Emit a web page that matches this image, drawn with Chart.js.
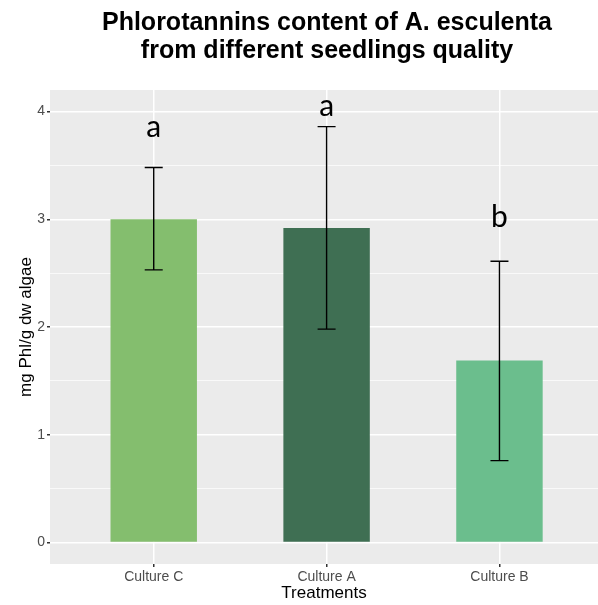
<!DOCTYPE html>
<html>
<head>
<meta charset="utf-8">
<script src="https://cdn.jsdelivr.net/npm/chart.js@4"></script>
<style>
  html, body { margin: 0; padding: 0; background: #fff; }
  #wrap { width: 598px; height: 605px; position: relative; }
</style>
</head>
<body>
<div id="wrap"><canvas id="chart"></canvas></div>
<script>
const categories = ["Culture C", "Culture A", "Culture B"];
const means = [3.0, 2.92, 1.69];
const errLow = [2.53, 1.98, 0.76];
const errHigh = [3.48, 3.86, 2.61];
const letters = ["a", "a", "b"];
const letterY = [3.85, 4.05, 3.02];
const barColors = ["#84be6e", "#3f6f53", "#6bbe8d"];
const yTicks = [0, 1, 2, 3, 4];

const TITLE = ["Phlorotannins content of A. esculenta", "from different seedlings quality"];

// grey panel behind the bars
const panelBg = {
  id: "panelBg",
  beforeDraw(chart) {
    const { ctx, chartArea: a } = chart;
    ctx.save();
    ctx.fillStyle = "#ebebeb";
    ctx.fillRect(a.left, a.top, a.right - a.left, a.bottom - a.top);
    ctx.restore();
  },
};

// error bars + significance letters + title
const extras = {
  id: "extras",
  afterDatasetsDraw(chart) {
    const { ctx, scales } = chart;
    const x = scales.x, y = scales.y;
    ctx.save();
    ctx.strokeStyle = "#000";
    ctx.lineWidth = 1.4;
    categories.forEach((c, i) => {
      const px = x.getPixelForValue(i);
      const top = y.getPixelForValue(errHigh[i]);
      const bot = y.getPixelForValue(errLow[i]);
      ctx.beginPath();
      ctx.moveTo(px, top); ctx.lineTo(px, bot);
      ctx.moveTo(px - 9, top); ctx.lineTo(px + 9, top);
      ctx.moveTo(px - 9, bot); ctx.lineTo(px + 9, bot);
      ctx.stroke();
    });
    ctx.fillStyle = "#000";
    ctx.font = "30px Lato";
    ctx.textAlign = "center";
    ctx.textBaseline = "middle";
    categories.forEach((c, i) => {
      ctx.fillText(letters[i], x.getPixelForValue(i), y.getPixelForValue(letterY[i]));
    });
    ctx.font = "bold 25px 'Liberation Sans', Arial, sans-serif";
    ctx.textBaseline = "alphabetic";
    ctx.fillText(TITLE[0], 327, 30);
    ctx.fillText(TITLE[1], 327, 58);
    ctx.restore();
  },
};

new Chart(document.getElementById("chart"), {
  type: "bar",
  data: {
    datasets: [{
      data: means.map((v, i) => ({ x: i, y: v })),
      backgroundColor: barColors,
      barPercentage: 0.5,
      categoryPercentage: 1,
    }],
  },
  options: {
    responsive: true,
    maintainAspectRatio: false,
    animation: false,
    layout: { padding: { top: 90, left: 8, right: 0, bottom: 0 } },
    plugins: { legend: { display: false }, tooltip: { enabled: false }, title: { display: false } },
    scales: {
      x: {
        type: "linear",
        offset: false,
        min: -0.6,
        max: 2.57,
        afterBuildTicks(s) { s.ticks = categories.map((c, i) => ({ value: i })); },
        afterFit(s) { s.height = 41; },
        border: { display: false },
        grid: { offset: false, color: "#fff", lineWidth: 1.5, tickColor: "#333", tickLength: 3 },
        ticks: {
          color: "#4d4d4d",
          font: { family: "'Liberation Sans', Arial", size: 14 },
          padding: 2,
          callback: (v) => categories[v],
        },
        title: {
          display: true,
          text: "Treatments",
          color: "#000",
          font: { family: "'Liberation Sans', Arial", size: 17 },
          padding: { top: 0, bottom: 1 },
        },
      },
      y: {
        min: -0.2,
        max: 4.2,
        afterBuildTicks(s) {
          const t = [];
          for (let v = 0; v <= 4; v += 0.5) t.push({ value: v });
          s.ticks = t;
        },
        afterFit(s) { s.width = 42; },
        border: { display: false },
        grid: {
          color: "#fff",
          lineWidth: (c) => (Number.isInteger(c.tick.value) ? 1.5 : 0.7),
          tickColor: (c) => (Number.isInteger(c.tick.value) ? "#333" : "rgba(0,0,0,0)"),
          tickLength: 3,
        },
        ticks: {
          color: "#4d4d4d",
          font: { family: "'Liberation Sans', Arial", size: 14 },
          padding: 2,
          callback: (v) => (yTicks.includes(v) ? String(v) : ""),
        },
        title: {
          display: true,
          text: "mg Phl/g dw algae",
          color: "#000",
          font: { family: "'Liberation Sans', Arial", size: 17 },
          padding: { top: 8, bottom: 4 },
        },
      },
    },
  },
  plugins: [panelBg, extras],
});
</script>
</body>
</html>
